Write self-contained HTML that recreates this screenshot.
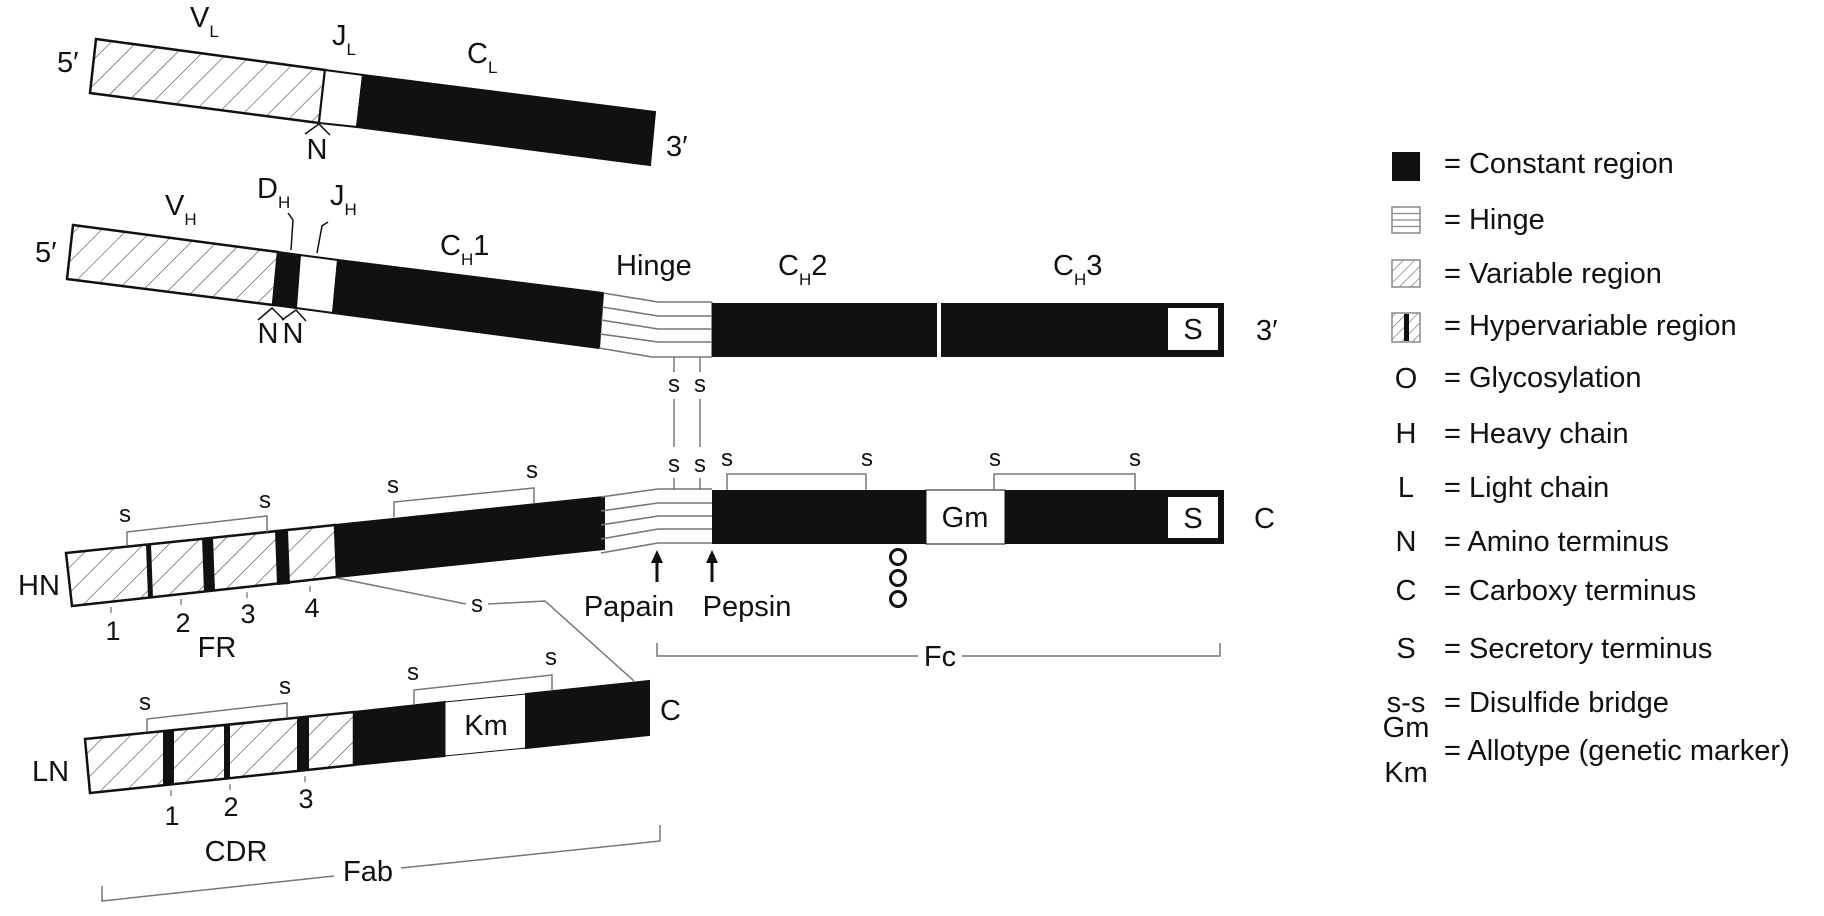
<!DOCTYPE html>
<html><head><meta charset="utf-8"><style>
html,body{margin:0;padding:0;background:#fff}
svg{display:block}
text{font-family:"Liberation Sans",Arial,sans-serif;fill:#111}
</style></head><body>
<svg width="1824" height="916" viewBox="0 0 1824 916" xmlns="http://www.w3.org/2000/svg">
<defs>
<pattern id="hat" patternUnits="userSpaceOnUse" width="18" height="18" patternTransform="rotate(45)">
<rect width="18" height="18" fill="#fff"/>
<line x1="0" y1="0" x2="0" y2="18" stroke="#555" stroke-width="1.3"/>
</pattern>
<pattern id="hat2" patternUnits="userSpaceOnUse" width="8" height="8" patternTransform="rotate(45)">
<rect width="8" height="8" fill="#fff"/>
<line x1="0" y1="0" x2="0" y2="8" stroke="#666" stroke-width="1.2"/>
</pattern>
</defs>

<!-- ===== Light chain (gene) ===== -->
<polygon points="96,39 325,70 319,123 90,93" fill="url(#hat)" stroke="#111" stroke-width="2.5"/>
<polygon points="325,70 363,75 357,127 319,123" fill="#fff" stroke="#111" stroke-width="2"/>
<polygon points="363,75 655,112 650,165 357,127" fill="#111" stroke="#111" stroke-width="2"/>
<text x="57" y="72" font-size="29">5′</text>
<text x="190" y="27" font-size="29">V<tspan font-size="17" dy="10">L</tspan></text>
<text x="332" y="45" font-size="29">J<tspan font-size="17" dy="10">L</tspan></text>
<text x="467" y="63" font-size="29">C<tspan font-size="17" dy="10">L</tspan></text>
<text x="666" y="156" font-size="29">3′</text>
<polyline points="305,134 319,124 330,135" fill="none" stroke="#111" stroke-width="1.5"/>
<text x="317" y="159" font-size="29" text-anchor="middle">N</text>

<!-- ===== Heavy chain (gene) ===== -->
<polygon points="73,225 278,252 273,305 67,279" fill="url(#hat)" stroke="#111" stroke-width="2.5"/>
<polygon points="278,252 300,255 296,308 273,305" fill="#111" stroke="#111" stroke-width="2"/>
<polygon points="300,255 338,260 333,313 296,308" fill="#fff" stroke="#111" stroke-width="2"/>
<polygon points="338,260 603,293 599,348 333,313" fill="#111" stroke="#111" stroke-width="2"/>
<g fill="none" stroke="#777" stroke-width="1.6">
<polyline points="603,293 658,302 712,302"/>
<polyline points="602,307 658,316 712,316"/>
<polyline points="601,320 658,329 712,329"/>
<polyline points="600,334 658,342 712,342"/>
<polyline points="599,348 652,357 712,357"/>
<line x1="712" y1="302" x2="712" y2="357"/>
</g>
<rect x="712" y="303" width="512" height="54" fill="#111"/>
<rect x="937" y="303" width="4" height="54" fill="#fff"/>
<rect x="1168" y="308" width="50" height="42" fill="#fff"/>
<text x="1193" y="339" font-size="29" text-anchor="middle">S</text>
<text x="1256" y="340" font-size="29">3′</text>
<text x="35" y="262" font-size="29">5′</text>
<text x="165" y="215" font-size="29">V<tspan font-size="17" dy="10">H</tspan></text>
<text x="257" y="198" font-size="29">D<tspan font-size="17" dy="10">H</tspan></text>
<text x="330" y="205" font-size="29">J<tspan font-size="17" dy="10">H</tspan></text>
<path d="M288,213 L293,220 L291,250" fill="none" stroke="#111" stroke-width="1.5"/>
<path d="M328,222 L322,226 L317,253" fill="none" stroke="#111" stroke-width="1.5"/>
<text x="440" y="255" font-size="29">C<tspan font-size="17" dy="10">H</tspan><tspan dy="-10">1</tspan></text>
<text x="616" y="275" font-size="29">Hinge</text>
<text x="778" y="275" font-size="29">C<tspan font-size="17" dy="10">H</tspan><tspan dy="-10">2</tspan></text>
<text x="1053" y="275" font-size="29">C<tspan font-size="17" dy="10">H</tspan><tspan dy="-10">3</tspan></text>
<polyline points="258,320 272,308 284,320" fill="none" stroke="#111" stroke-width="1.5"/>
<polyline points="282,320 296,310 306,321" fill="none" stroke="#111" stroke-width="1.5"/>
<text x="268" y="343" font-size="29" text-anchor="middle">N</text>
<text x="293" y="343" font-size="29" text-anchor="middle">N</text>

<g stroke="#777" stroke-width="1.5">
<line x1="674" y1="357" x2="674" y2="372"/><line x1="700" y1="357" x2="700" y2="372"/>
<line x1="674" y1="399" x2="674" y2="447"/><line x1="700" y1="399" x2="700" y2="447"/>
<line x1="674" y1="478" x2="674" y2="490"/><line x1="700" y1="478" x2="700" y2="490"/>
</g>
<g font-size="24" text-anchor="middle">
<text x="674" y="392">s</text><text x="700" y="392">s</text>
<text x="674" y="472">s</text><text x="700" y="472">s</text>
</g>

<!-- ===== Heavy chain (protein) ===== -->
<polygon points="66,553 335,525 337,577 72,606" fill="url(#hat)" stroke="#111" stroke-width="2.5"/>
<polygon points="146,545 151,544 153,598 148,598" fill="#111"/>
<polygon points="202,538 213,537 215,591 204,592" fill="#111"/>
<polygon points="275,531 288,530 290,584 277,585" fill="#111"/>
<polygon points="335,525 604,497 604,549 337,577" fill="#111" stroke="#111" stroke-width="2"/>
<g fill="none" stroke="#777" stroke-width="1.6">
<polyline points="601,497 658,489 712,489"/>
<polyline points="601,511 658,503 712,503"/>
<polyline points="601,525 658,516 712,516"/>
<polyline points="601,539 658,529 712,529"/>
<polyline points="601,553 658,543 712,543"/>
</g>
<rect x="712" y="490" width="512" height="54" fill="#111"/>
<rect x="926" y="490" width="79" height="54" fill="#fff" stroke="#111" stroke-width="1"/>
<text x="965" y="527" font-size="29" text-anchor="middle">Gm</text>
<rect x="1168" y="497" width="50" height="41" fill="#fff"/>
<text x="1193" y="528" font-size="29" text-anchor="middle">S</text>
<text x="1254" y="528" font-size="29">C</text>
<text x="18" y="595" font-size="29">HN</text>
<g fill="none" stroke="#777" stroke-width="1.5">
<polyline points="127,545 127,532 267,516 267,532"/>
<polyline points="394,517 394,502 534,488 534,503"/>
<polyline points="727,490 727,474 866,474 866,490"/>
<polyline points="994,490 994,474 1135,474 1135,490"/>
</g>
<g font-size="24" text-anchor="middle">
<text x="125" y="522">s</text><text x="265" y="508">s</text>
<text x="393" y="493">s</text><text x="532" y="478">s</text>
<text x="727" y="466">s</text><text x="867" y="466">s</text>
<text x="995" y="466">s</text><text x="1135" y="466">s</text>
</g>
<g stroke="#777" stroke-width="1.3">
<line x1="111" y1="607" x2="111" y2="613"/><line x1="181" y1="599" x2="181" y2="605"/>
<line x1="247" y1="592" x2="247" y2="598"/><line x1="310" y1="586" x2="310" y2="592"/>
</g>
<g font-size="27" text-anchor="middle">
<text x="113" y="640">1</text><text x="183" y="632">2</text><text x="248" y="623">3</text><text x="312" y="617">4</text>
</g>
<text x="217" y="657" font-size="29" text-anchor="middle">FR</text>
<g fill="none" stroke="#111" stroke-width="3">
<circle cx="898" cy="557" r="7.5"/><circle cx="898" cy="578" r="7.5"/><circle cx="898" cy="599" r="7.5"/>
</g>
<g stroke="#111" stroke-width="3"><line x1="657" y1="582" x2="657" y2="560"/><line x1="712" y1="582" x2="712" y2="560"/></g>
<polygon points="657,550 651,563 663,563" fill="#111"/>
<polygon points="712,550 706,563 718,563" fill="#111"/>
<text x="629" y="616" font-size="29" text-anchor="middle">Papain</text>
<text x="747" y="616" font-size="29" text-anchor="middle">Pepsin</text>
<g fill="none" stroke="#777" stroke-width="1.5">
<polyline points="657,643 657,656 918,656"/>
<polyline points="962,656 1220,656 1220,643"/>
</g>
<text x="940" y="666" font-size="29" text-anchor="middle">Fc</text>
<g fill="none" stroke="#777" stroke-width="1.5">
<polyline points="337,578 466,604"/>
<polyline points="488,604 545,601 634,681"/>
</g>
<text x="477" y="612" font-size="24" text-anchor="middle">s</text>

<!-- ===== Light chain (protein) ===== -->
<polygon points="85,739 354,712 354,765 90,793" fill="url(#hat)" stroke="#111" stroke-width="2.5"/>
<polygon points="163,731 174,730 174,784 163,785" fill="#111"/>
<polygon points="224,725 230,724 230,778 224,779" fill="#111"/>
<polygon points="297,717 309,716 309,770 297,771" fill="#111"/>
<polygon points="354,712 445,702 445,756 354,765" fill="#111" stroke="#111" stroke-width="2"/>
<polygon points="445,702 526,694 526,748 445,756" fill="#fff" stroke="#111" stroke-width="1"/>
<text x="486" y="735" font-size="29" text-anchor="middle">Km</text>
<polygon points="526,694 649,681 649,735 526,748" fill="#111" stroke="#111" stroke-width="2"/>
<text x="660" y="720" font-size="29">C</text>
<text x="32" y="781" font-size="29">LN</text>
<g fill="none" stroke="#777" stroke-width="1.5">
<polyline points="147,732 147,719 287,703 287,718"/>
<polyline points="414,704 414,690 552,675 552,690"/>
</g>
<g font-size="24" text-anchor="middle">
<text x="145" y="710">s</text><text x="285" y="694">s</text>
<text x="413" y="680">s</text><text x="551" y="665">s</text>
</g>
<g stroke="#777" stroke-width="1.3">
<line x1="171" y1="790" x2="171" y2="796"/><line x1="230" y1="784" x2="230" y2="790"/><line x1="305" y1="776" x2="305" y2="782"/>
</g>
<g font-size="27" text-anchor="middle">
<text x="172" y="825">1</text><text x="231" y="816">2</text><text x="306" y="808">3</text>
</g>
<text x="236" y="861" font-size="29" text-anchor="middle">CDR</text>
<g fill="none" stroke="#777" stroke-width="1.5">
<polyline points="102,886 102,901 334,876"/>
<polyline points="401,868 660,841 660,825"/>
</g>
<text x="368" y="881" font-size="29" text-anchor="middle">Fab</text>

<!-- ===== Legend ===== -->
<rect x="1392" y="152" width="28" height="29" fill="#111"/>
<rect x="1392" y="207" width="28" height="26" fill="#fff" stroke="#888" stroke-width="1.5"/>
<g stroke="#888" stroke-width="1.2"><line x1="1392" y1="213.5" x2="1420" y2="213.5"/><line x1="1392" y1="220" x2="1420" y2="220"/><line x1="1392" y1="226.5" x2="1420" y2="226.5"/></g>
<rect x="1392" y="260" width="28" height="27" fill="url(#hat2)" stroke="#888" stroke-width="1.5"/>
<rect x="1392" y="313" width="28" height="29" fill="url(#hat2)" stroke="#888" stroke-width="1.5"/>
<rect x="1404" y="314" width="5" height="27" fill="#111"/>
<g font-size="29">
<text x="1444" y="173">= Constant region</text>
<text x="1444" y="229">= Hinge</text>
<text x="1444" y="283">= Variable region</text>
<text x="1444" y="335">= Hypervariable region</text>
<text x="1444" y="387">= Glycosylation</text>
<text x="1444" y="443">= Heavy chain</text>
<text x="1444" y="497">= Light chain</text>
<text x="1444" y="551">= Amino terminus</text>
<text x="1444" y="600">= Carboxy terminus</text>
<text x="1444" y="658">= Secretory terminus</text>
<text x="1444" y="712">= Disulfide bridge</text>
<text x="1444" y="760">= Allotype (genetic marker)</text>
</g>
<g font-size="29" text-anchor="middle">
<text x="1406" y="388">O</text>
<text x="1406" y="443">H</text>
<text x="1406" y="497">L</text>
<text x="1406" y="551">N</text>
<text x="1406" y="600">C</text>
<text x="1406" y="658">S</text>
<text x="1406" y="712">s-s</text>
<text x="1406" y="737">Gm</text>
<text x="1406" y="782">Km</text>
</g>
</svg>
</body></html>
